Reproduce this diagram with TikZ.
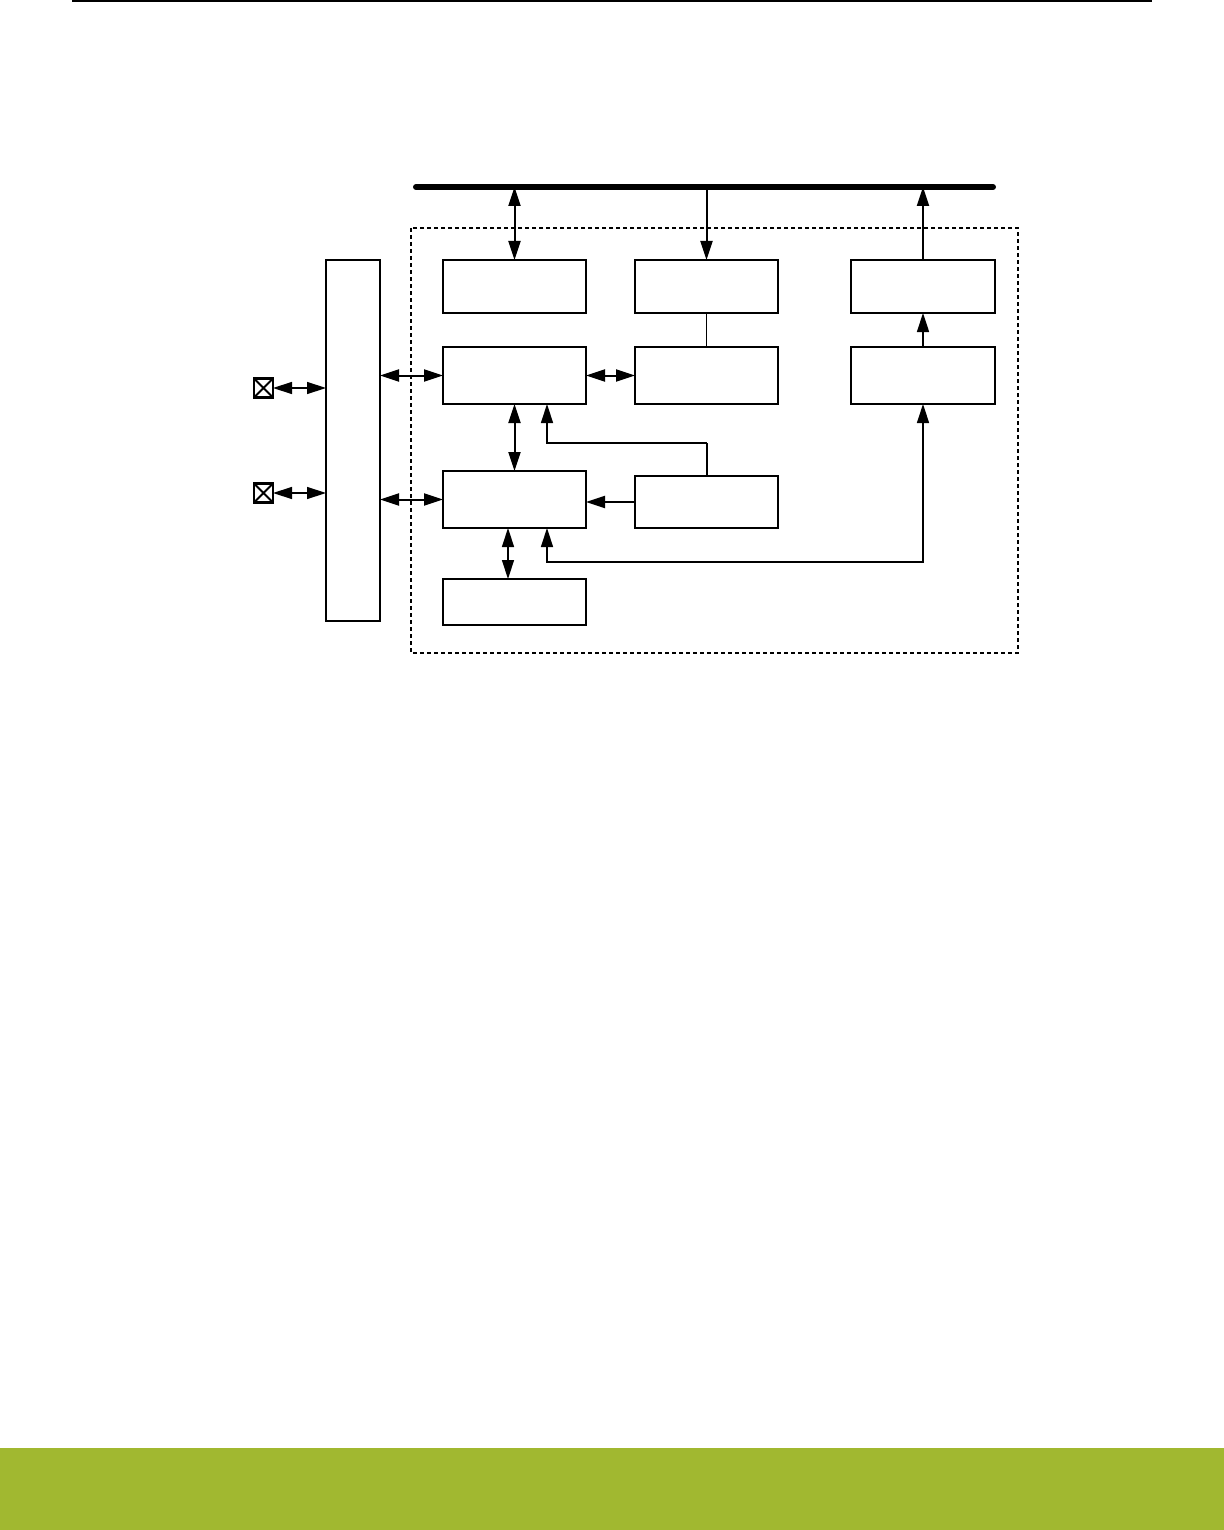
\documentclass[tikz,border=0pt]{standalone}
\usetikzlibrary{arrows.meta,calc}
\definecolor{bandgreen}{RGB}{161,184,48}
\begin{document}
\begin{tikzpicture}[x=0.5pt,y=-0.5pt,
  box/.style={draw,line width=1.05pt,inner sep=0pt,outer sep=0pt,fill=white},
  thinbox/.style={draw,line width=0.8pt,inner sep=0pt,outer sep=0pt},
  pin/.style={draw,line width=1.3pt,inner sep=0pt,outer sep=0pt,minimum width=9.5pt,minimum height=9.5pt,
     path picture={\draw[line width=1pt] (path picture bounding box.north west) -- (path picture bounding box.south east)
                   (path picture bounding box.north east) -- (path picture bounding box.south west);}},
  conn/.style={line width=1pt,-{Triangle[length=9.5pt,width=6pt]}},
  bconn/.style={line width=1pt,{Triangle[length=9.5pt,width=6pt]}-{Triangle[length=9.5pt,width=6pt]}},
  tconn/.style={line width=0.7pt,{Triangle[length=9.5pt,width=6pt]}-{Triangle[length=9.5pt,width=6pt]}},
  plain/.style={line width=0.7pt}]
\useasboundingbox (0,0) rectangle (1224,1530);
% page decorations
\fill[bandgreen] (0,1448) rectangle (1224,1530);
\coordinate (ruleL) at (72,1);
\coordinate (ruleR) at (1152,1);
\draw[line width=1.1pt] (ruleL) -- (ruleR);
% bus
\coordinate (busL) at (416,187);
\coordinate (busR) at (993,187);
\draw[line width=3pt,line cap=round] (busL) -- (busR);
% dashed frame
\draw[dash pattern=on 2pt off 1.5pt,line width=0.55pt] (411,228) rectangle (1018,653);
% boxes
\node[box,minimum width=71.5pt,minimum height=26.5pt] (A1) at (514.5,286.5) {};
\node[box,minimum width=71.5pt,minimum height=26.5pt] (A2) at (706.5,286.5) {};
\node[box,minimum width=72pt,minimum height=26.5pt] (A3) at (923,286.5) {};
\node[box,minimum width=71.5pt,minimum height=28.5pt] (B1) at (514.5,375.5) {};
\node[thinbox,minimum width=71.5pt,minimum height=28.5pt] (B2) at (706.5,375.5) {};
\node[thinbox,minimum width=72pt,minimum height=28.5pt] (B3) at (923,375.5) {};
\node[box,minimum width=71.5pt,minimum height=28.5pt] (C1) at (514.5,499.5) {};
\node[thinbox,minimum width=71.5pt,minimum height=26pt] (C2) at (706.5,502) {};
\node[box,minimum width=71.5pt,minimum height=23pt] (D1) at (514.5,602) {};
\node[thinbox,minimum width=27pt,minimum height=180.5pt] (L) at (353,440.5) {};
\node[pin] (P1) at (263.5,388) {};
\node[pin] (P2) at (263.5,493) {};
% bus connections
\draw[bconn] (A1.north |- busL) -- (A1.north);
\draw[conn] (A2.north |- busL) -- (A2.north);
\draw[conn] (A3.north) -- (A3.north |- busL);
% inner connections
\draw[plain] (A2.south) -- (B2.north);
\draw[conn,line width=0.8pt] (B3.north) -- (A3.south);
\draw[bconn] (B1.east) -- (B2.west);
\draw[bconn] (L.east |- B1.west) -- (B1.west);
\draw[bconn] (L.east |- C1.west) -- (C1.west);
\draw[tconn] (P1.east) -- (L.west |- P1.east);
\draw[tconn] (P2.east) -- (L.west |- P2.east);
\draw[bconn] (B1.south) -- (C1.north);
\draw[conn] (C2.west) -- (C1.east |- C2.west);
\draw[tconn] ([xshift=-3.25pt]C1.south) -- ([xshift=-3.25pt]D1.north);
\coordinate (j1) at (547,443);
\draw[line width=1pt] (C2.north) -- (C2.north |- j1);
\draw[conn,line width=0.7pt] (C2.north |- j1) -- (j1) -- (j1 |- B1.south);
\coordinate (j2) at (547,562);
\draw[tconn] (j2 |- C1.south) -- (j2) -| (B3.south);
\end{tikzpicture}
\end{document}
